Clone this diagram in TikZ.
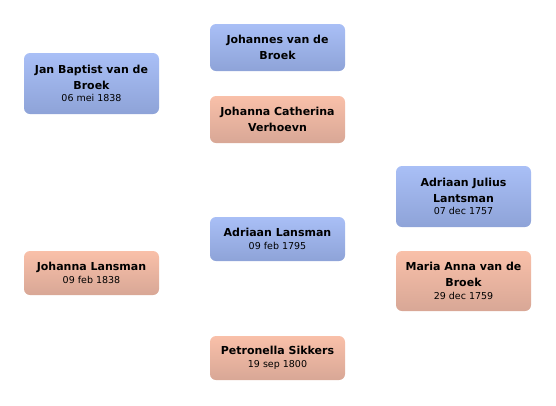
\documentclass[tikz,border=0pt]{standalone}
\usepackage{fontspec}
\setmainfont{DejaVu Sans}
\definecolor{maletop}{HTML}{A9BFF6}
\definecolor{malebot}{HTML}{8EA3D8}
\definecolor{femtop}{HTML}{F9C0A9}
\definecolor{fembot}{HTML}{D8A796}
\tikzset{
  person/.style={rounded corners=6pt,minimum width=135pt,align=center,inner sep=2pt,
    font=\fontsize{11}{16}\selectfont\bfseries},
  male/.style={person,top color=maletop,bottom color=malebot},
  female/.style={person,top color=femtop,bottom color=fembot}
}
\newcommand{\born}[1]{\\[-3.5pt]{\fontsize{9.5}{11}\selectfont\mdseries #1}}
\begin{document}
\begin{tikzpicture}[x=1pt,y=-1pt]
\useasboundingbox (0,0) rectangle (556,405);
% generation 1
\node[male,minimum height=61pt] (jan) at (91.5,83.5){Jan Baptist van de\\Broek\born{06 mei 1838}};
\node[female,minimum height=44pt] (johanna) at (91.5,273){Johanna Lansman\born{09 feb 1838}};
% generation 2
\node[male,minimum height=47pt] (johannes) at (277.5,47.5){Johannes van de\\Broek};
\node[female,minimum height=47pt] (catherina) at (277.5,119.5){Johanna Catherina\\Verhoevn};
\node[male,minimum height=44pt] (adriaan) at (277.5,239){Adriaan Lansman\born{09 feb 1795}};
\node[female,minimum height=44pt] (petronella) at (277.5,358){Petronella Sikkers\born{19 sep 1800}};
% generation 3
\node[male,minimum height=61pt] (julius) at (463.5,196.5){Adriaan Julius\\Lantsman\born{07 dec 1757}};
\node[female,minimum height=60pt] (maria) at (463.5,281){Maria Anna van de\\Broek\born{29 dec 1759}};
\end{tikzpicture}
\end{document}
